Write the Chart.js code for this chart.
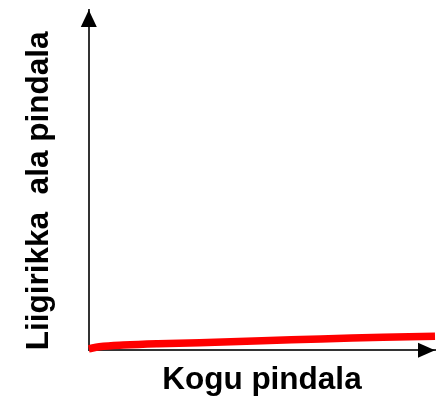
<!DOCTYPE html>
<html>
<head>
<meta charset="utf-8">
<script src="https://cdn.jsdelivr.net/npm/chart.js@4"></script>
<style>
  html, body { margin: 0; padding: 0; background: #fff; }
  #wrap { width: 445px; height: 403px; }
</style>
</head>
<body>
<div id="wrap"><canvas id="chart"></canvas></div>
<script>
// andmed pildilt loetud (suhtelised ühikud 0..100)
const koguPindala = [0, 3, 10, 20, 32, 50, 67, 85, 100];
const liigirikkaPindala = [0.4, 1.0, 1.5, 1.9, 2.2, 2.8, 3.3, 3.8, 4.1];
const xTitle = "Kogu pindala";
const yTitle = "Liigirikka  ala pindala";

// noolepead telgede otstesse
const arrows = {
  id: "arrows",
  afterDraw(chart) {
    const { ctx, chartArea: a } = chart;
    ctx.save();
    ctx.fillStyle = "#000";
    ctx.beginPath();
    ctx.moveTo(a.left, a.top);
    ctx.lineTo(a.left - 8, a.top + 17);
    ctx.lineTo(a.left + 8, a.top + 17);
    ctx.closePath();
    ctx.fill();
    ctx.beginPath();
    ctx.moveTo(a.right, a.bottom);
    ctx.lineTo(a.right - 17, a.bottom - 7.5);
    ctx.lineTo(a.right - 17, a.bottom + 7.5);
    ctx.closePath();
    ctx.fill();
    ctx.restore();
  }
};

const axisBorder = { display: true, color: "#333", width: 2 };
const titleFont = { family: "Liberation Sans, Arial", size: 31.5, weight: "bold", lineHeight: 1.2 };

new Chart(document.getElementById("chart").getContext("2d"), {
  type: "line",
  data: {
    datasets: [{
      data: koguPindala.map((x, i) => ({ x, y: liigirikkaPindala[i] })),
      borderColor: "#ff0000",
      borderWidth: 7.5,
      borderCapStyle: "butt",
      pointRadius: 0,
      tension: 0.4,
      clip: false
    }]
  },
  options: {
    responsive: true,
    maintainAspectRatio: false,
    animation: false,
    layout: { padding: { left: 20, top: 10, right: 10, bottom: 0 } },
    plugins: { legend: { display: false }, tooltip: { enabled: false } },
    scales: {
      x: {
        type: "linear",
        min: 0,
        max: 100,
        ticks: { display: false },
        grid: { display: false, drawTicks: false },
        border: axisBorder,
        title: {
          display: true,
          text: xTitle,
          color: "#000",
          font: titleFont,
          padding: { top: 11, bottom: 4 }
        }
      },
      y: {
        type: "linear",
        min: 0,
        max: 100,
        ticks: { display: false },
        grid: { display: false, drawTicks: false },
        border: axisBorder,
        title: {
          display: true,
          text: yTitle,
          align: "start",
          color: "#000",
          font: titleFont,
          padding: { top: 0, bottom: 31 }
        }
      }
    }
  },
  plugins: [arrows]
});
</script>
</body>
</html>
